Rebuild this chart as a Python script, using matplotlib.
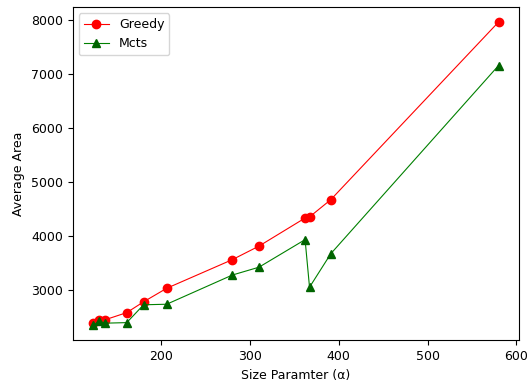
import matplotlib
matplotlib.use("Agg")
import matplotlib.pyplot as plt

# values
size_param = [123, 130, 137, 161, 180, 206, 280, 310, 362, 367, 391, 580]
greedy_area = [2390, 2460, 2460, 2590, 2790, 3040, 3570, 3820, 4340, 4360, 4680, 7965]
mcts_area = [2355, 2430, 2395, 2405, 2735, 2745, 3285, 3430, 3940, 3060, 3680, 7160]

plt.rcParams['font.size'] = 9

fig = plt.figure(figsize=(5.31, 3.83), dpi=100)
ax = fig.add_axes([0.137, 0.111, 0.84, 0.871])

ax.plot(size_param, greedy_area, color='red', marker='o', linewidth=0.8,
        markersize=6, label='Greedy')
ax.plot(size_param, mcts_area, color='green', marker='^', linewidth=0.8,
        markersize=6, markerfacecolor='darkgreen', markeredgecolor='darkgreen',
        label='Mcts')

ax.set_xlabel('Size Paramter (α)')
ax.set_ylabel('Average Area')
ax.legend(loc='upper left')

fig.savefig('out.png', dpi=100)
